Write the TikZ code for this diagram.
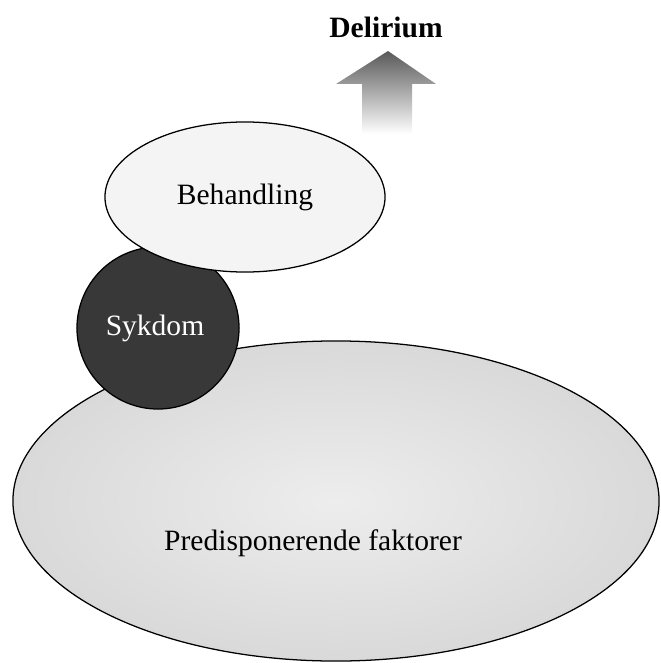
\documentclass[tikz,border=0pt]{standalone}
\usepackage{fontspec}
\setmainfont{Liberation Serif}
\usetikzlibrary{shapes.geometric,backgrounds}
\tikzset{
    factor/.style = {draw, ellipse, inner sep=0pt,
        line width=0.9pt},
    illness/.style = {draw, circle, inner sep=0pt,
        line width=0.9pt},
    label/.style = {font=\fontsize{21}{25}\selectfont}
}
\definecolor{PGrey}{HTML}{EDEDED}
\definecolor{PEdge}{HTML}{D9D9D9}
\definecolor{BGrey}{HTML}{F4F4F4}
\definecolor{SDark}{HTML}{383838}

\begin{document}
\begin{tikzpicture}[x=0.025cm,y=-0.025cm]
                \useasboundingbox (0,0) rectangle (661,663);
                \node [factor, minimum width=16.15cm, minimum height=8cm,
                    inner color=PGrey, outer color=PEdge] (predisp) at (336,501) {};
                \node [illness, minimum size=4.05cm, fill=SDark] (sykdom) at (158,328) {};
                \node [factor, minimum width=7cm, minimum height=3.75cm,
                    fill=BGrey] (behandl) at (245,197) {};
                \shade [top color=black!65, middle color=black!58, bottom color=white]
                    (388,51) -- (436,84) -- (412,84) -- (412,134)
                    -- (362,134) -- (362,84) -- (336,84) -- cycle;
                \node [label] (predtxt) at (313,543) {Predisponerende faktorer};
                \node [label, text=white] (syktxt) at (155,328) {Sykdom};
                \node [label] (behtxt) at (245,197) {Behandling};
                \node [label, font=\fontsize{21}{25}\selectfont\bfseries] (delir) at (386,27) {Delirium};
            \end{tikzpicture}
\end{document}
